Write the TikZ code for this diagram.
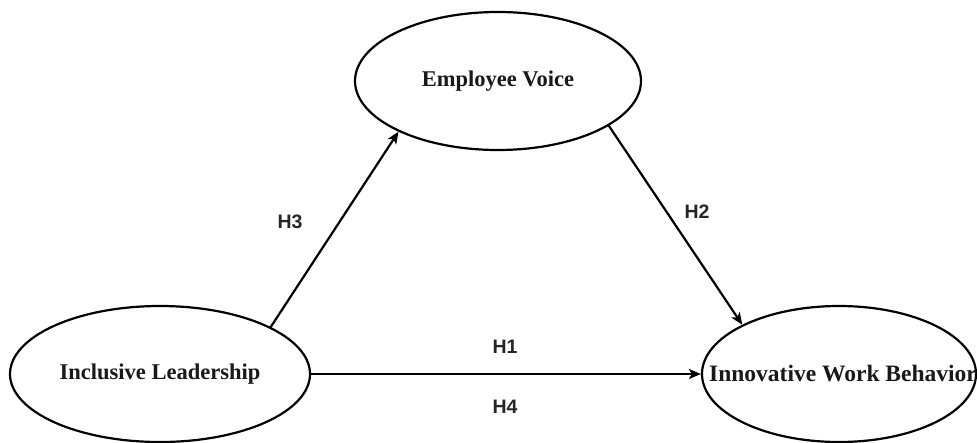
\documentclass[tikz,border=0pt]{standalone}
\usepackage{fontspec}
\setmainfont{Liberation Serif}
\setsansfont{Liberation Sans}
\usetikzlibrary{shapes.geometric,arrows.meta}
\begin{document}
\begin{tikzpicture}[x=1pt,y=-1pt,
  construct/.style={ellipse,draw,line width=2.2pt,inner sep=0pt},
  ctext/.style={font=\fontsize{22.5}{26}\selectfont\bfseries,text=black!90},
  hlabel/.style={font=\fontsize{19.5}{22}\selectfont\sffamily\bfseries,text=black!85},
  path/.style={line width=2.2pt,-{Stealth[length=12pt,width=10pt,inset=3pt]}}]
\useasboundingbox[fill=white] (0,0) rectangle (977,442);
\node[construct,minimum width=286pt,minimum height=138pt] (ev) at (498,81) {};
\node[construct,minimum width=300pt,minimum height=136pt] (il) at (160,374) {};
\node[construct,minimum width=274pt,minimum height=136pt] (iwb) at (839,374) {};
\node[ctext] (evt) at (ev.center) {Employee Voice};
\node[ctext] (ilt) at (il.center) {Inclusive Leadership};
\node[ctext,font=\fontsize{23.5}{26}\selectfont\bfseries] (iwbt) at (843,374) {Innovative Work Behavior};
\draw[path] (il.23.7) -- (ev.207);
\draw[path] (ev.338.5) -- (iwb.153.2);
\draw[path] (il.east) -- (iwb.west);
\node[hlabel] (h3) at (290,222) {H3};
\node[hlabel] (h2) at (697,212) {H2};
\node[hlabel] (h1) at (505,347) {H1};
\node[hlabel] (h4) at (505,407) {H4};
\end{tikzpicture}
\end{document}
